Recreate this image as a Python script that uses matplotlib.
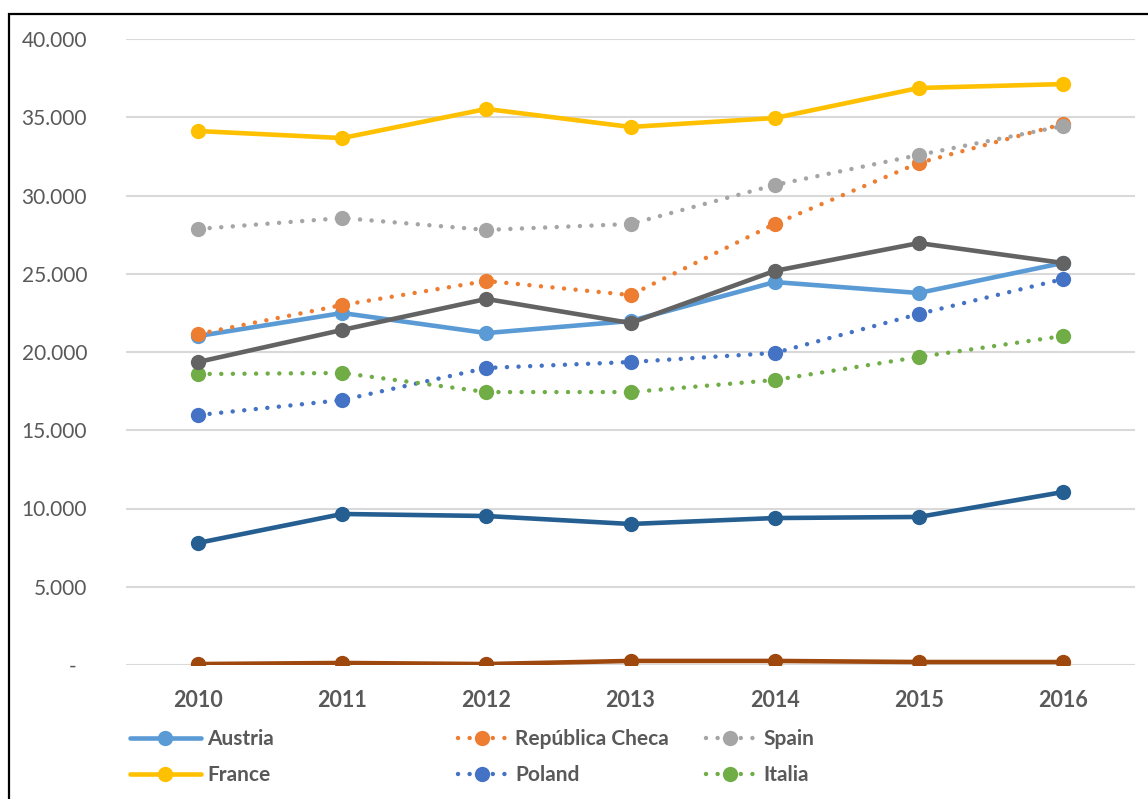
import numpy as np
import matplotlib
matplotlib.use('Agg')
import matplotlib.pyplot as plt
from matplotlib.patches import Rectangle
from matplotlib.ticker import FuncFormatter

plt.rcParams['font.family'] = ['Lato', 'DejaVu Sans']

# data
years = ['2010', '2011', '2012', '2013', '2014', '2015', '2016']
austria = [21020, 22490, 21210, 21980, 24470, 23770, 25690]
rep_checa = [21150, 23000, 24540, 23640, 28180, 32080, 34570]
spain = [27860, 28560, 27800, 28180, 30670, 32590, 34440]
france = [34120, 33670, 35530, 34380, 34950, 36870, 37120]
poland = [15970, 16930, 18980, 19360, 19940, 22430, 24660]
italia = [18590, 18660, 17440, 17440, 18210, 19680, 21020]
# the three series below have their legend entries cut off in the picture
serie_7 = [7800, 9650, 9520, 9010, 9390, 9460, 11050]
serie_8 = [19360, 21410, 23390, 21850, 25180, 26960, 25690]
serie_9 = [60, 130, 60, 260, 260, 190, 190]

text_col = '#595959'
dotted = (0, (0.01, 2.6))

fig = plt.figure(figsize=(11.48, 7.99), dpi=100)
ax = fig.add_axes([126/1148, 1-665/799, (1135-126)/1148, (665-39)/799])

x = np.arange(len(years))
series = [
    ('Austria', austria, '#5B9BD5', '-'),
    ('República Checa', rep_checa, '#ED7D31', dotted),
    ('Spain', spain, '#A5A5A5', dotted),
    ('France', france, '#FFC000', '-'),
    ('Poland', poland, '#4472C4', dotted),
    ('Italia', italia, '#70AD47', dotted),
    (None, serie_7, '#255E91', '-'),
    (None, serie_8, '#636363', '-'),
    (None, serie_9, '#9E480E', '-'),
]

handles = {}
for i, (name, vals, col, ls) in enumerate(series):
    lw = 3.3 if ls == '-' else 3.2
    ln, = ax.plot(x, vals, color=col, linestyle=ls, lw=lw, marker='o', markersize=11,
                  markeredgewidth=0, dash_capstyle='round', solid_capstyle='round', zorder=3+i)
    if name:
        handles[name] = ln

ax.set_xlim(-0.5, 6.5)
ax.set_ylim(0, 40000)
ax.set_yticks(np.arange(0, 40001, 5000))
ax.yaxis.set_major_formatter(FuncFormatter(lambda v, p: '-  ' if v == 0 else f'{int(v):,}'.replace(',', '.')))
ax.set_xticks(x)
ax.set_xticklabels(years, fontweight='bold')
ax.tick_params(axis='y', length=0, pad=28, labelsize=15, labelcolor=text_col)
ax.tick_params(axis='x', length=0, pad=18, labelsize=15.5, labelcolor=text_col)
ax.grid(axis='y', color='#D9D9D9', lw=1.5, zorder=0)
for s in ax.spines.values():
    s.set_visible(False)

# legend, three columns placed as in the picture
cols = [(['Austria', 'France'], 130, 3.4, 0.3),
        (['República Checa', 'Poland'], 458, 2.3, 0.45),
        (['Spain', 'Italia'], 706, 2.3, 0.45)]
for names, xpix, hl, tp in cols:
    fig.legend([handles[n] for n in names], names, loc='upper left',
               bbox_to_anchor=(xpix/1148, 1-729/799), frameon=False,
               handlelength=hl, handletextpad=tp, labelspacing=0.78,
               borderaxespad=0, borderpad=0,
               prop={'size': 15, 'weight': 'bold'}, labelcolor=text_col)

# chart border
fig.patches.append(Rectangle((9/1148, -0.1), 1.2, 1.1-14/799, transform=fig.transFigure,
                             fill=False, edgecolor='black', lw=1.6))

fig.savefig('out.png', dpi=100)
